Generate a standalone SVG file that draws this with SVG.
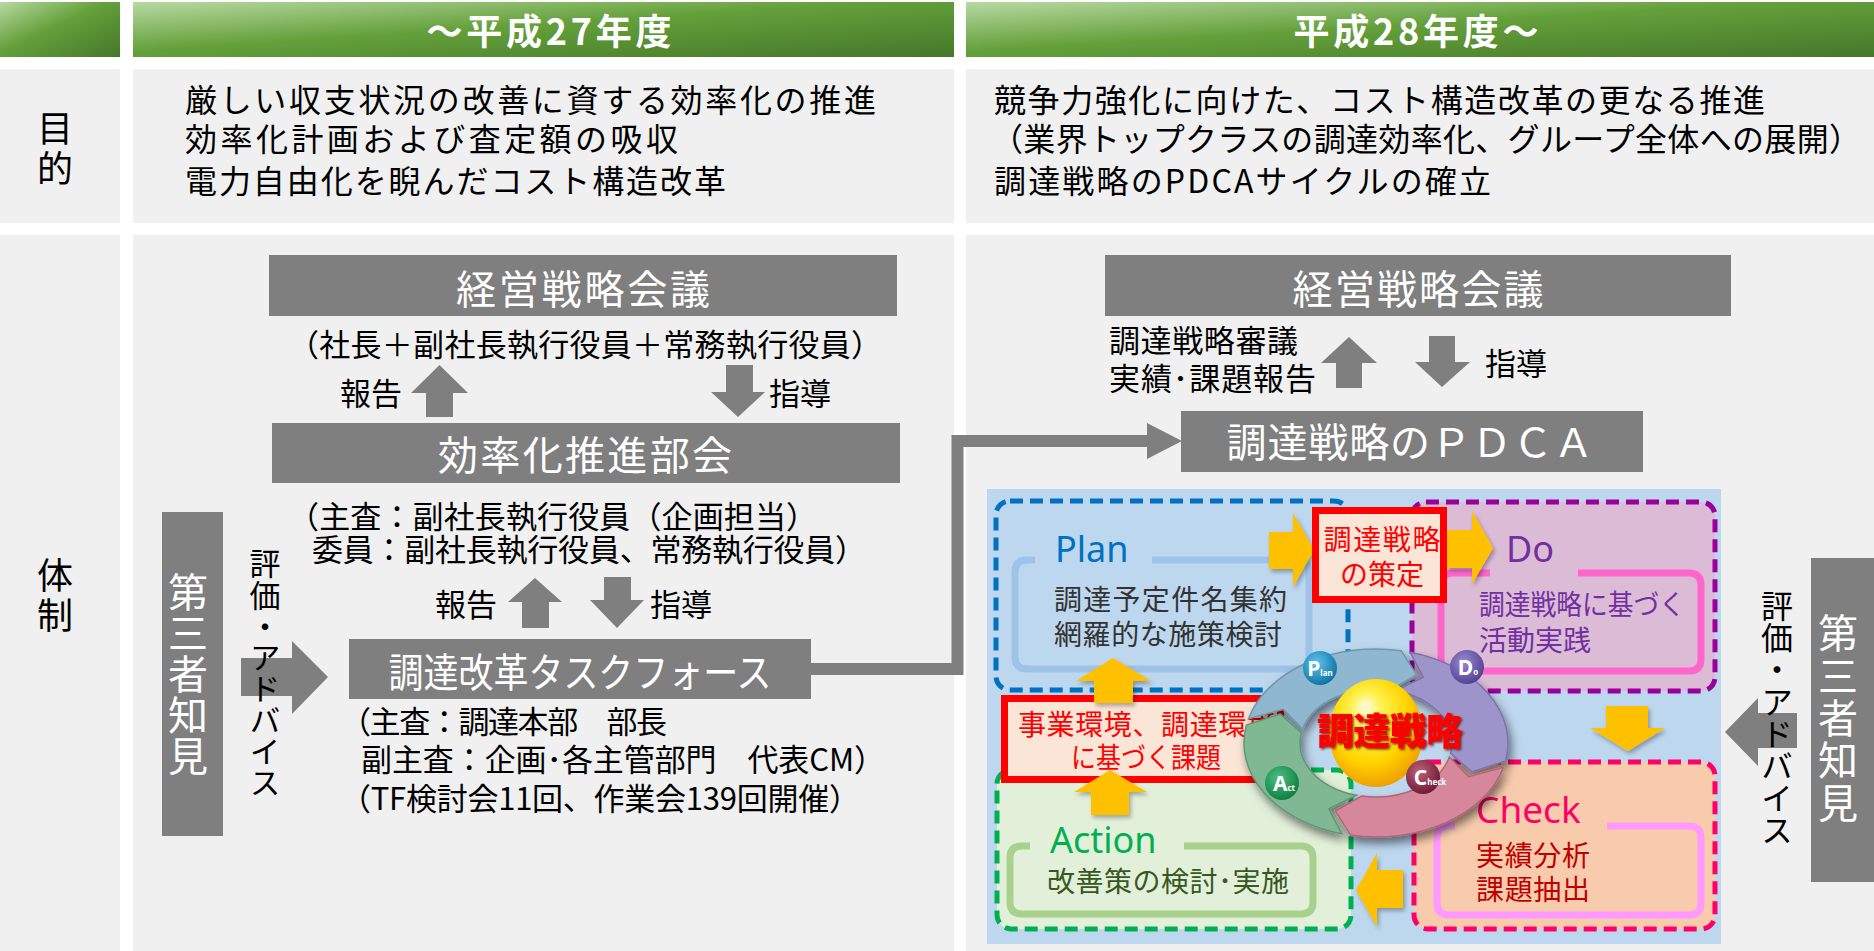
<svg xmlns="http://www.w3.org/2000/svg" width="1874" height="951" viewBox="0 0 1874 951">
<defs>
  <style>
    .jp { font-family: 'Noto Sans CJK JP', 'Noto Sans', sans-serif; }
    .lat { font-family: 'Noto Sans', 'Noto Sans CJK JP', sans-serif; }
    .cell { fill: #f0f0f0; }
    .hdr { fill: url(#hdrGrad); }
    .box { fill: #7f7f7f; }
    .boxText { font-size: 40px; fill: #ffffff; text-anchor: middle; }
    .hdrText { font-size: 36px; font-weight: 700; fill: #ffffff; text-anchor: middle; }
    .purpose { font-size: 32px; fill: #000000; }
    .label { font-size: 36px; fill: #000000; }
    .note { font-size: 31px; fill: #000000; }
    .vert { font-size: 31px; fill: #000000; writing-mode: vertical-rl; }
    .vertW { font-size: 40px; fill: #ffffff; writing-mode: vertical-rl; }
    .grayArrow { fill: #7f7f7f; }
    .yArrow { fill: #ffc000; filter: url(#soft); }
    .dash { stroke-width: 5; stroke-dasharray: 13 7; }
    .inner { fill: none; stroke-width: 7; stroke-linejoin: round; }
    .phase { font-size: 36px; }
    .body { font-size: 28px; }
    .redBox { fill: #fbe5d6; stroke: #ff0000; stroke-width: 7; }
    .redText { font-size: 28px; fill: #ff0000; }
  </style>
  <linearGradient id="hdrGrad" x1="0" y1="0" x2="1" y2="1">
    <stop offset="0" stop-color="#b8d9a2"/>
    <stop offset="0.45" stop-color="#64a03a"/>
    <stop offset="1" stop-color="#44782a"/>
  </linearGradient>
  <radialGradient id="sphere" cx="0.45" cy="0.4" r="0.6" fx="0.38" fy="0.25">
    <stop offset="0" stop-color="#fffbe0"/>
    <stop offset="0.3" stop-color="#fff04a"/>
    <stop offset="0.7" stop-color="#ffd400"/>
    <stop offset="1" stop-color="#f0a000"/>
  </radialGradient>
  <radialGradient id="badgeP" cx="0.4" cy="0.35" r="0.7"><stop offset="0" stop-color="#5fc4ec"/><stop offset="1" stop-color="#0a6f9e"/></radialGradient>
  <radialGradient id="badgeD" cx="0.4" cy="0.35" r="0.7"><stop offset="0" stop-color="#9a8ad0"/><stop offset="1" stop-color="#4e3e8e"/></radialGradient>
  <radialGradient id="badgeC" cx="0.4" cy="0.35" r="0.7"><stop offset="0" stop-color="#c0607a"/><stop offset="1" stop-color="#6a1632"/></radialGradient>
  <radialGradient id="badgeA" cx="0.4" cy="0.35" r="0.7"><stop offset="0" stop-color="#4cc080"/><stop offset="1" stop-color="#0e7a40"/></radialGradient>
  <filter id="soft" x="-30%" y="-30%" width="160%" height="160%">
    <feDropShadow dx="2" dy="3" stdDeviation="2" flood-color="#000" flood-opacity="0.3"/>
  </filter>
  <filter id="ringShadow" x="-20%" y="-20%" width="140%" height="150%">
    <feDropShadow dx="3" dy="6" stdDeviation="5" flood-color="#000" flood-opacity="0.5"/>
  </filter>
  <filter id="textShadow" x="-10%" y="-20%" width="120%" height="140%">
    <feDropShadow dx="1.5" dy="1.5" stdDeviation="1" flood-color="#5a0000" flood-opacity="0.8"/>
  </filter>
  <marker id="connHead" markerUnits="userSpaceOnUse" markerWidth="36" markerHeight="36" refX="0" refY="18" orient="auto">
    <path d="M0,0 L35,18 L0,36 Z" fill="#7f7f7f"/>
  </marker>
</defs>

<rect width="1874" height="951" fill="#ffffff"/>

<!-- table frame: header row, purpose row, organisation row -->
<g id="table">
  <rect class="hdr" x="0" y="2" width="120" height="55"/>
  <rect class="hdr" x="133" y="2" width="821" height="55"/>
  <rect class="hdr" x="966" y="2" width="908" height="55"/>
  <text class="jp hdrText" x="549" y="45" textLength="245">～平成27年度</text>
  <text class="jp hdrText" x="1416" y="45" textLength="245">平成28年度～</text>

  <rect class="cell" x="0" y="69" width="120" height="154"/>
  <rect class="cell" x="133" y="69" width="821" height="154"/>
  <rect class="cell" x="966" y="69" width="908" height="154"/>
  <text class="jp label" x="55" y="110" style="writing-mode: vertical-rl; letter-spacing: 4px">目的</text>

  <rect class="cell" x="0" y="235" width="120" height="716"/>
  <rect class="cell" x="133" y="235" width="821" height="716"/>
  <rect class="cell" x="966" y="235" width="908" height="716"/>
  <text class="jp label" x="55" y="557" style="writing-mode: vertical-rl; letter-spacing: 4px">体制</text>
</g>

<!-- purpose texts -->
<g id="purpose-left">
  <text class="jp purpose" x="185" y="112" textLength="691">厳しい収支状況の改善に資する効率化の推進</text>
  <text class="jp purpose" x="185" y="151" textLength="493">効率化計画および査定額の吸収</text>
  <text class="jp purpose" x="185" y="193" textLength="541">電力自由化を睨んだコスト構造改革</text>
</g>
<g id="purpose-right">
  <text class="jp purpose" x="994" y="112" textLength="771">競争力強化に向けた、コスト構造改革の更なる推進</text>
  <text class="jp purpose" x="991" y="151" textLength="870">（業界トップクラスの調達効率化、グループ全体への展開）</text>
  <text class="jp purpose" x="994" y="193" textLength="497">調達戦略のPDCAサイクルの確立</text>
</g>

<!-- connectors and block arrows -->
<g id="connectors">
  <polyline points="811,669 957.5,669 957.5,441 1147,441" fill="none" stroke="#7f7f7f" stroke-width="12" stroke-linejoin="miter" marker-end="url(#connHead)"/>
  <!-- left: 経営戦略会議 / 効率化推進部会 -->
  <polygon class="grayArrow" points="439.5,365 468,393 453,393 453,417 426,417 426,393 411,393"/>
  <polygon class="grayArrow" points="726,365 753,365 753,392 765,392 738,417 711,392 726,392"/>
  <!-- left: 効率化推進部会 / タスクフォース -->
  <polygon class="grayArrow" points="535,578 562,602 549,602 549,628 522,628 522,602 508,602"/>
  <polygon class="grayArrow" points="604,577 631,577 631,600 644,600 617,628 590,600 604,600"/>
  <!-- left: third-party advice arrow -->
  <polygon class="grayArrow" points="241,658 292,658 292,641 328,677 292,714 292,696 241,696"/>
  <!-- right: 経営戦略会議 / PDCA -->
  <polygon class="grayArrow" points="1349,337 1377,363 1362,363 1362,388 1336,388 1336,363 1321,363"/>
  <polygon class="grayArrow" points="1429,336 1455,336 1455,362 1470,362 1442,387 1415,362 1429,362"/>
  <!-- right: third-party advice arrow -->
  <polygon class="grayArrow" points="1797,713 1758,713 1758,698 1725,732 1758,766 1758,748 1797,748"/>
</g>

<!-- left organisation -->
<g id="left-management">
  <rect class="box" x="269" y="255" width="628" height="61"/>
  <text class="jp boxText" x="583" y="304" textLength="254">経営戦略会議</text>
  <text class="jp note" x="288" y="356" textLength="594">（社長＋副社長執行役員＋常務執行役員）</text>
  <text class="jp note" x="340" y="405">報告</text>
  <text class="jp note" x="769" y="405">指導</text>
</g>
<g id="left-efficiency">
  <rect class="box" x="272" y="423" width="628" height="60"/>
  <text class="jp boxText" x="585" y="470" textLength="294">効率化推進部会</text>
  <text class="jp note" x="288" y="528" textLength="529">（主査：副社長執行役員（企画担当）</text>
  <text class="jp note" x="312" y="561" textLength="554">委員：副社長執行役員、常務執行役員）</text>
  <text class="jp note" x="435" y="616">報告</text>
  <text class="jp note" x="650" y="616">指導</text>
</g>
<g id="left-taskforce">
  <rect class="box" x="349" y="639" width="462" height="60"/>
  <text class="jp boxText" x="580" y="687" textLength="383" lengthAdjust="spacingAndGlyphs">調達改革タスクフォース</text>
  <text class="jp note" x="340" y="733" textLength="327">（主査：調達本部　部長</text>
  <text class="jp note" x="361" y="771" textLength="524">副主査：企画･各主管部門　代表CM）</text>
  <text class="jp note" x="340" y="810" textLength="520">（TF検討会11回、作業会139回開催）</text>
</g>
<g id="left-thirdparty">
  <rect class="box" x="162" y="512" width="61" height="324"/>
  <text class="jp vertW" x="188" y="572" style="letter-spacing: 1px">第三者知見</text>
  <text class="jp vert" x="265" y="548" style="letter-spacing: 0.3px">評価・アドバイス</text>
</g>

<!-- right organisation -->
<g id="right-management">
  <rect class="box" x="1105" y="255" width="626" height="61"/>
  <text class="jp boxText" x="1418" y="304" textLength="251">経営戦略会議</text>
  <text class="jp note" x="1109" y="352" textLength="189">調達戦略審議</text>
  <text class="jp note" x="1109" y="390" textLength="207">実績･課題報告</text>
  <text class="jp note" x="1485" y="375">指導</text>
</g>
<g id="right-pdca-title">
  <rect class="box" x="1181" y="411" width="462" height="61"/>
  <text class="jp boxText" x="1410" y="457" textLength="367">調達戦略のＰＤＣＡ</text>
</g>
<g id="right-thirdparty">
  <rect class="box" x="1811" y="558" width="63" height="324"/>
  <text class="jp vertW" x="1838" y="613" style="letter-spacing: 2.4px">第三者知見</text>
  <text class="jp vert" x="1777" y="590" style="font-size: 32px">評価・アドバイス</text>
</g>

<!-- PDCA cycle panel -->
<g id="pdca-panel">
  <rect x="987" y="489" width="734" height="455" fill="#bdd7ee"/>
</g>
<g id="plan">
  <rect class="dash" x="996" y="501" width="352" height="189" rx="14" fill="#bdd7ee" stroke="#0070c0"/>
  <path class="inner" stroke="#9dc3e6" d="M1152,560 H1297 Q1309,560 1309,572 V657 Q1309,669 1297,669 H1027 Q1015,669 1015,657 V572 Q1015,560 1027,560 H1035"/>
  <text class="lat phase" x="1055" y="562" fill="#0070c0">Plan</text>
  <text class="jp body" x="1054" y="610" fill="#333333" textLength="233">調達予定件名集約</text>
  <text class="jp body" x="1054" y="645" fill="#333333" textLength="228">網羅的な施策検討</text>
</g>
<g id="do">
  <rect class="dash" x="1412" y="502" width="303" height="189" rx="14" fill="#dcbbd6" stroke="#990099"/>
  <path class="inner" stroke="#ff66cc" d="M1578,573 H1689 Q1701,573 1701,585 V659 Q1701,671 1689,671 H1453 Q1441,671 1441,659 V585 Q1441,573 1453,573 H1490"/>
  <text class="lat phase" x="1506" y="562" fill="#7030a0">Do</text>
  <text class="jp body" x="1479" y="615" fill="#7030a0" textLength="206" lengthAdjust="spacingAndGlyphs">調達戦略に基づく</text>
  <text class="jp body" x="1479" y="651" fill="#7030a0">活動実践</text>
</g>
<g id="check">
  <rect class="dash" x="1414" y="762" width="301" height="167" rx="14" fill="#f8cbad" stroke="#ff0066"/>
  <path class="inner" stroke="#ff99ff" d="M1607,826 H1689 Q1701,826 1701,838 V903 Q1701,915 1689,915 H1449 Q1437,915 1437,903 V838 Q1437,826 1449,826 H1455"/>
  <text class="lat phase" x="1476" y="823" fill="#ff0066" style="font-size:37px">Check</text>
  <text class="jp body" x="1476" y="866" fill="#c00000" textLength="114">実績分析</text>
  <text class="jp body" x="1476" y="900" fill="#c00000" textLength="114">課題抽出</text>
</g>
<g id="action">
  <rect class="dash" x="997" y="770" width="354" height="159" rx="14" fill="#e2f0d9" stroke="#00b050"/>
  <path class="inner" stroke="#a9d18e" d="M1184,846 H1301 Q1313,846 1313,858 V902 Q1313,914 1301,914 H1022 Q1010,914 1010,902 V858 Q1010,846 1022,846 H1030"/>
  <text class="lat phase" x="1050" y="853" fill="#00b050">Action</text>
  <text class="jp body" x="1047" y="892" fill="#385723" textLength="242">改善策の検討･実施</text>
</g>
<g id="issues">
  <rect class="redBox" x="1004.5" y="698.5" width="276" height="81"/>
  <text class="jp redText" x="1018" y="735" textLength="257">事業環境、調達環境</text>
  <text class="jp redText" x="1146" y="768" text-anchor="middle" textLength="150" lengthAdjust="spacingAndGlyphs">に基づく課題</text>
</g>

<!-- yellow cycle arrows -->
<g id="cycle-arrows">
  <polygon class="yArrow" points="1269,532 1293,532 1293,513 1314,550 1293,587 1293,569 1269,569"/>
  <polygon class="yArrow" points="1447,530 1472,530 1472,511 1493,548 1472,584 1472,568 1447,568"/>
  <polygon class="yArrow" points="1606,706 1648,706 1648,728 1665,728 1628,751 1590,728 1606,728"/>
  <polygon class="yArrow" points="1403,870 1377,870 1377,853 1356,890 1377,927 1377,908 1403,908"/>
  <polygon class="yArrow" points="1110,770 1147,792 1129,792 1129,815 1091,815 1091,792 1074,792"/>
  <polygon class="yArrow" points="1113,658 1151,681 1133,681 1133,703 1094,703 1094,681 1076,681"/>
</g>

<g id="strategy-set">
  <rect class="redBox" x="1315.5" y="510.5" width="128" height="89"/>
  <text class="jp redText" x="1382" y="550" text-anchor="middle" textLength="117">調達戦略</text>
  <text class="jp redText" x="1382" y="585" text-anchor="middle">の策定</text>
</g>

<!-- central PDCA ring -->
<g id="pdca-ring">
  <g filter="url(#ringShadow)">
    <path d="M1248.5,718.7 A132,94 0 0 1 1401.2,650.7 L1416.6,674.9 L1390.5,690.0 A76,54 0 0 0 1302.6,729.0 L1283.3,709.4 Z" fill="#8fb7cf" stroke="#6f97ad" stroke-width="1.5"/>
    <path d="M1410.2,652.2 A132,94 0 0 1 1505.6,760.9 L1471.7,771.9 L1450.6,753.3 A76,54 0 0 0 1395.7,690.8 L1423.2,677.1 Z" fill="#9d95c9" stroke="#7b72a8" stroke-width="1.5"/>
    <path d="M1503.5,767.3 A132,94 0 0 1 1350.8,835.3 L1335.4,811.1 L1361.5,796.0 A76,54 0 0 0 1449.4,757.0 L1468.7,776.6 Z" fill="#d6879b" stroke="#b0667a" stroke-width="1.5"/>
    <path d="M1341.8,833.8 A132,94 0 0 1 1246.4,725.1 L1280.3,714.1 L1301.4,732.7 A76,54 0 0 0 1356.3,795.2 L1328.8,808.9 Z" fill="#80b894" stroke="#5f9675" stroke-width="1.5"/>
  </g>
  <ellipse cx="1376" cy="733" rx="47" ry="54" fill="url(#sphere)"/>
  <circle cx="1320" cy="668" r="17" fill="url(#badgeP)"/>
  <text class="lat" x="1320" y="676" text-anchor="middle" fill="#ffffff" font-size="21" font-weight="700">P<tspan font-size="8">lan</tspan></text>
  <circle cx="1467" cy="667" r="17" fill="url(#badgeD)"/>
  <text class="lat" x="1468" y="675" text-anchor="middle" fill="#ffffff" font-size="21" font-weight="700">D<tspan font-size="8">o</tspan></text>
  <circle cx="1423" cy="777" r="17" fill="url(#badgeC)"/>
  <text class="lat" x="1430" y="785" text-anchor="middle" fill="#ffffff" font-size="21" font-weight="700">C<tspan font-size="8">heck</tspan></text>
  <circle cx="1282" cy="783" r="17" fill="url(#badgeA)"/>
  <text class="lat" x="1284" y="791" text-anchor="middle" fill="#ffffff" font-size="21" font-weight="700">A<tspan font-size="8">ct</tspan></text>
  <text class="jp" x="1390" y="745" text-anchor="middle" fill="#ff0000" font-size="37" font-weight="900" textLength="146" filter="url(#textShadow)">調達戦略</text>
</g>
</svg>
